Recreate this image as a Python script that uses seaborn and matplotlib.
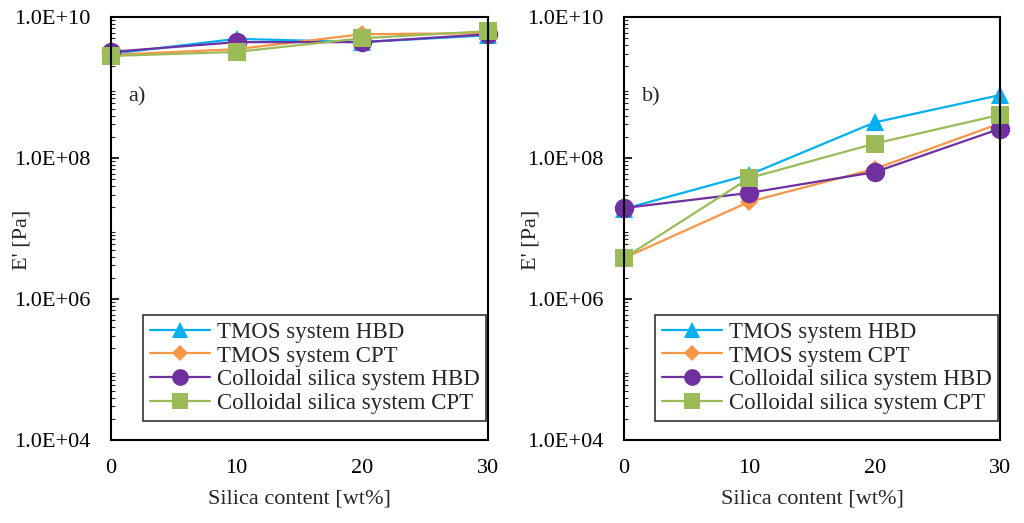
import numpy as np
import pandas as pd
import matplotlib
matplotlib.use("Agg")
import matplotlib.pyplot as plt
import seaborn as sns
from matplotlib.ticker import LogLocator, FixedLocator, FuncFormatter, NullFormatter

sns.set_style("ticks")
plt.rcParams['font.family'] = ['Liberation Serif', 'DejaVu Serif']

silica = [0, 10, 20, 30]
series_names = ["TMOS system HBD", "TMOS system CPT",
                "Colloidal silica system HBD", "Colloidal silica system CPT"]

# panel a)
a_tmos_hbd = [3.0e9, 4.9e9, 4.4e9, 5.5e9]
a_tmos_cpt = [2.9e9, 3.5e9, 5.7e9, 5.9e9]
a_coll_hbd = [3.2e9, 4.4e9, 4.4e9, 5.7e9]
a_coll_cpt = [2.8e9, 3.2e9, 5.0e9, 6.3e9]

# panel b)
b_tmos_hbd = [1.9e7, 5.8e7, 3.2e8, 7.8e8]
b_tmos_cpt = [3.8e6, 2.4e7, 7.0e7, 3.1e8]
b_coll_hbd = [1.95e7, 3.2e7, 6.3e7, 2.6e8]
b_coll_cpt = [3.8e6, 5.2e7, 1.6e8, 4.1e8]

colors = ["#00B0F0", "#F79646", "#7030A0", "#9BBB59"]
markers = ["^", "D", "o", "s"]
msizes = [13, 9, 14, 13]
leg_msizes = [12, 8.5, 12, 11]

fig = plt.figure(figsize=(10.24, 5.23), dpi=100)
axA = fig.add_axes([0.1084, 0.1587, 0.3682, 0.8088])
axB = fig.add_axes([0.6094, 0.1587, 0.3672, 0.8088])

panels = [(axA, [a_tmos_hbd, a_tmos_cpt, a_coll_hbd, a_coll_cpt], "a)", -0.21),
          (axB, [b_tmos_hbd, b_tmos_cpt, b_coll_hbd, b_coll_cpt], "b)", -0.222)]

for ax, vals, lab, ylx in panels:
    for name, v, c, m, ms in zip(series_names, vals, colors, markers, msizes):
        df = pd.DataFrame({"x": silica, "y": v})
        sns.lineplot(data=df, x="x", y="y", ax=ax, color=c, marker=m,
                     markersize=ms, markeredgewidth=0, linewidth=1.6,
                     label=name, clip_on=False)
    ax.set_yscale("log")
    ax.set_ylim(1e4, 1e10)
    ax.set_xlim(0, 30)
    ax.set_xticks([0, 10, 20, 30])
    ax.yaxis.set_major_locator(FixedLocator([1e4, 1e6, 1e8, 1e10]))
    ax.yaxis.set_minor_locator(LogLocator(base=10, subs=np.arange(2, 10), numticks=20))
    ax.yaxis.set_minor_formatter(NullFormatter())
    ax.yaxis.set_major_formatter(FuncFormatter(lambda v, p: "1.0E+%02d" % int(round(np.log10(v)))))
    ax.tick_params(axis="y", which="major", direction="in", length=6, width=1.2,
                   labelsize=16, pad=15, colors="black")
    ax.tick_params(axis="y", which="minor", direction="in", length=3, width=0.8)
    ax.tick_params(axis="x", which="major", direction="in", length=0,
                   labelsize=16, pad=14, colors="black")
    for s in ax.spines.values():
        s.set_linewidth(1.5)
        s.set_color("black")
    ax.set_xlabel("Silica content [wt%]", fontsize=16, labelpad=8)
    ax.set_ylabel("E' [Pa]", fontsize=16)
    ax.yaxis.set_label_coords(ylx, 0.473)
    ax.text(0.047, 0.811, lab, transform=ax.transAxes, fontsize=16, va="center")
    leg = ax.legend(loc="lower right", bbox_to_anchor=(0.995, 0.045), fontsize=16.5,
                    frameon=True, fancybox=False, edgecolor="black",
                    handlelength=2.6, handletextpad=0.3, borderpad=0.3,
                    labelspacing=0.12, borderaxespad=0)
    leg.get_frame().set_linewidth(1.2)
    for h, lms in zip(leg.legend_handles, leg_msizes):
        h.set_markersize(lms)

fig.savefig("out.png", dpi=100)
